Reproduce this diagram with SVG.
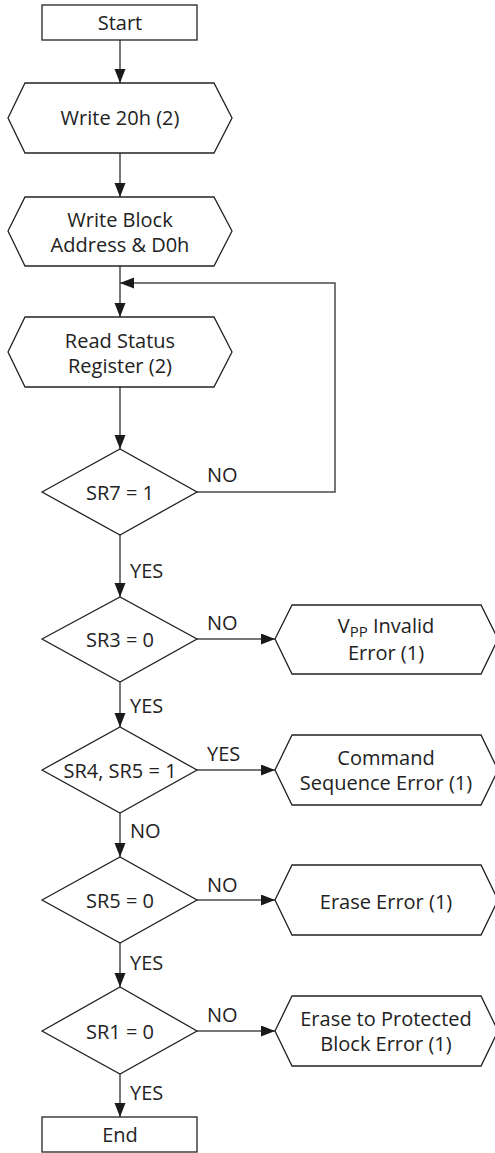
<svg xmlns="http://www.w3.org/2000/svg" width="495" height="1153" viewBox="0 0 495 1153">
<style>
.s{fill:#fff;stroke:#222;stroke-width:1.3}
.c{fill:none;stroke:#4a4a4a;stroke-width:1.5}
text{font-family:"Open Sans","Liberation Sans",sans-serif;font-size:20px;fill:#222}
.m{text-anchor:middle}
</style>
<defs>
<marker id="ah" markerUnits="userSpaceOnUse" markerWidth="14" markerHeight="12" refX="14" refY="5.5" orient="auto">
<path d="M0,0 L14,5.5 L0,11 z" fill="#1a1a1a"/>
</marker>
</defs>
<rect width="495" height="1153" fill="#fff"/>
<g id="connectors">
<line class="c" x1="120" y1="40" x2="120" y2="83" marker-end="url(#ah)"/>
<line class="c" x1="120" y1="153" x2="120" y2="197" marker-end="url(#ah)"/>
<line class="c" x1="120" y1="266" x2="120" y2="317" marker-end="url(#ah)"/>
<polyline class="c" points="197,492 335,492 335,283 120,283" marker-end="url(#ah)"/>
<line class="c" x1="120" y1="387" x2="120" y2="449" marker-end="url(#ah)"/>
<line class="c" x1="120" y1="535" x2="120" y2="597" marker-end="url(#ah)"/>
<line class="c" x1="197" y1="639" x2="275" y2="639" marker-end="url(#ah)"/>
<line class="c" x1="120" y1="682" x2="120" y2="727" marker-end="url(#ah)"/>
<line class="c" x1="197" y1="770" x2="275" y2="770" marker-end="url(#ah)"/>
<line class="c" x1="120" y1="813" x2="120" y2="857" marker-end="url(#ah)"/>
<line class="c" x1="197" y1="900" x2="275" y2="900" marker-end="url(#ah)"/>
<line class="c" x1="120" y1="943" x2="120" y2="987" marker-end="url(#ah)"/>
<line class="c" x1="197" y1="1031" x2="275" y2="1031" marker-end="url(#ah)"/>
<line class="c" x1="120" y1="1074" x2="120" y2="1117" marker-end="url(#ah)"/>
<text x="207" y="482">NO</text>
<text x="130" y="578">YES</text>
<text x="207" y="630">NO</text>
<text x="130" y="713">YES</text>
<text x="207" y="761">YES</text>
<text x="130" y="838">NO</text>
<text x="207" y="892">NO</text>
<text x="130" y="970">YES</text>
<text x="207" y="1022">NO</text>
<text x="130" y="1100">YES</text>
</g>
<g id="start">
<rect class="s" x="42" y="5" width="155" height="35"/>
<text class="m" x="120" y="30">Start</text>
</g>
<g id="write20h">
<polygon class="s" points="8,118 25,83 214,83 232,118 214,153 25,153"/>
<text class="m" x="120" y="125">Write 20h (2)</text>
</g>
<g id="writeblock">
<polygon class="s" points="8,231 25,197 214,197 232,231 214,266 25,266"/>
<text class="m" x="120" y="227">Write Block</text>
<text class="m" x="120" y="252">Address &amp; D0h</text>
</g>
<g id="readstatus">
<polygon class="s" points="8,352 25,317 214,317 232,352 214,387 25,387"/>
<text class="m" x="120" y="348">Read Status</text>
<text class="m" x="120" y="373">Register (2)</text>
</g>
<g id="sr7">
<polygon class="s" points="42,492 120,449 197,492 120,535"/>
<text class="m" x="120" y="500">SR7 = 1</text>
</g>
<g id="sr3">
<polygon class="s" points="42,639 120,597 197,639 120,682"/>
<text class="m" x="120" y="647">SR3 = 0</text>
</g>
<g id="vpp">
<polygon class="s" points="275,639 292,605 481,605 498,639 481,674 292,674"/>
<text class="m" x="386" y="633">V<tspan font-size="15" dy="4">PP</tspan><tspan dy="-4"> Invalid</tspan></text>
<text class="m" x="386" y="660">Error (1)</text>
</g>
<g id="sr45">
<polygon class="s" points="42,770 120,727 197,770 120,813"/>
<text class="m" x="120" y="778">SR4, SR5 = 1</text>
</g>
<g id="cmdseq">
<polygon class="s" points="275,770 292,735 481,735 498,770 481,805 292,805"/>
<text class="m" x="386" y="765">Command</text>
<text class="m" x="386" y="790">Sequence Error (1)</text>
</g>
<g id="sr5">
<polygon class="s" points="42,900 120,857 197,900 120,943"/>
<text class="m" x="120" y="908">SR5 = 0</text>
</g>
<g id="eraseerr">
<polygon class="s" points="275,900 292,865 481,865 498,900 481,935 292,935"/>
<text class="m" x="386" y="909">Erase Error (1)</text>
</g>
<g id="sr1">
<polygon class="s" points="42,1031 120,987 197,1031 120,1074"/>
<text class="m" x="120" y="1039">SR1 = 0</text>
</g>
<g id="protect">
<polygon class="s" points="275,1031 292,996 481,996 498,1031 481,1066 292,1066"/>
<text class="m" x="386" y="1026">Erase to Protected</text>
<text class="m" x="386" y="1051">Block Error (1)</text>
</g>
<g id="end">
<rect class="s" x="42" y="1117" width="155" height="35"/>
<text class="m" x="120" y="1142">End</text>
</g>
</svg>
